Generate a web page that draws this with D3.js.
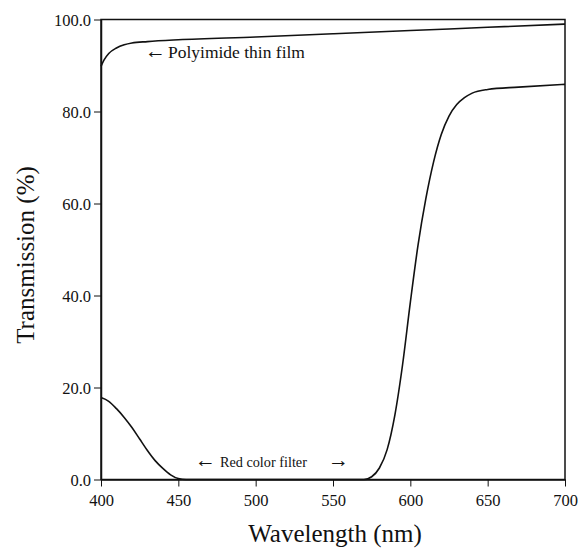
<!DOCTYPE html>
<html>
<head>
<meta charset="utf-8">
<script src="https://cdn.jsdelivr.net/npm/d3@7"></script>
<style>
  body { margin: 0; background: #fff; }
</style>
</head>
<body>
<div id="chart"></div>
<script>
// polyimide thin film
var polyWl = [400, 402, 405, 410, 415, 420, 430, 450, 500, 550, 600, 650, 700];
var polyT = [89.8, 91.2, 92.6, 93.8, 94.5, 94.9, 95.2, 95.6, 96.2, 96.9, 97.6, 98.3, 99.0];

// red color filter
var redWl = [400, 405, 410, 415, 420, 425, 430, 435, 440, 445, 450, 455, 500, 550, 570, 575, 580, 585, 590, 595, 600, 605, 610, 615, 620, 625, 630, 635, 640, 650, 670, 700];
var redT = [17.8, 17.0, 15.4, 13.5, 11.3, 8.8, 6.3, 4.1, 2.4, 1.0, 0.2, 0, 0, 0, 0, 0.6, 2.5, 6.5, 14, 25, 38.5, 51, 61, 69, 75, 79, 81.5, 83, 84, 84.8, 85.3, 85.9];

var xTicks = [400, 450, 500, 550, 600, 650, 700];
var yTicks = [0, 20, 40, 60, 80, 100];

var serif = "'Liberation Serif'";

var svgWidth = 579;
var svgHeight = 548;
var margin = { top: 19.5, right: 14, bottom: 68.5, left: 101 };
var width = svgWidth - margin.left - margin.right;
var height = svgHeight - margin.top - margin.bottom;

var svg = d3.select("#chart")
    .append("svg")
    .attr("width", svgWidth)
    .attr("height", svgHeight);

var chartGroup = svg.append("g")
    .attr("transform", `translate(${margin.left}, ${margin.top})`);

var x = d3.scaleLinear().domain([400, 700]).range([0, width]);
var y = d3.scaleLinear().domain([0, 100]).range([height, 0]);

// frame
chartGroup.append("rect")
    .attr("width", width)
    .attr("height", height)
    .attr("fill", "none")
    .attr("stroke", "#111")
    .attr("stroke-width", 1.5);

var xAxis = d3.axisBottom(x).tickValues(xTicks).tickSize(7).tickSizeOuter(0).tickFormat(d3.format("d"));
var yAxis = d3.axisLeft(y).tickValues(yTicks).tickSize(7).tickSizeOuter(0).tickFormat(d3.format(".1f"));

var gx = chartGroup.append("g")
    .attr("transform", `translate(0, ${height})`)
    .call(xAxis);
var gy = chartGroup.append("g").call(yAxis);

[gx, gy].forEach(function(g) {
    g.select(".domain").attr("stroke", "#111").attr("stroke-width", 1.5);
    g.selectAll(".tick line").attr("stroke", "#111").attr("stroke-width", 1);
    g.selectAll(".tick text")
        .style("font-family", serif)
        .style("font-size", "16.5px")
        .attr("fill", "#111");
});
gx.selectAll(".tick text").attr("y", 14.5).attr("dy", "0.71em");
gy.selectAll(".tick text").attr("x", -10).attr("dy", "0.34em");

var line = d3.line()
    .x(d => x(d[0]))
    .y(d => y(d[1]))
    .curve(d3.curveMonotoneX);

chartGroup.append("path")
    .datum(d3.zip(polyWl, polyT))
    .attr("d", line)
    .attr("fill", "none")
    .attr("stroke", "#111")
    .attr("stroke-width", 1.6);

chartGroup.append("path")
    .datum(d3.zip(redWl, redT))
    .attr("d", line)
    .attr("fill", "none")
    .attr("stroke", "#111")
    .attr("stroke-width", 1.6);

// annotations
function note(wl, val, str, size, len) {
    var t = chartGroup.append("text")
        .attr("x", x(wl))
        .attr("y", y(val))
        .style("font-family", serif)
        .style("font-size", size + "px")
        .attr("fill", "#111")
        .text(str);
    if (len) t.attr("textLength", len).attr("lengthAdjust", "spacingAndGlyphs");
    return t;
}

note(428.4, 91.6, "\u2190", 21);
note(443.3, 91.6, "Polyimide thin film", 16.5, 137);

note(460.8, 2.7, "\u2190", 21);
note(476.9, 2.7, "Red color filter", 15.5, 87);
note(546.8, 2.7, "\u2192", 21);

// axis titles
svg.append("text")
    .attr("transform", `translate(335, 542)`)
    .attr("text-anchor", "middle")
    .style("font-family", serif)
    .style("font-size", "25px")
    .attr("fill", "#111")
    .text("Wavelength (nm)");

svg.append("text")
    .attr("transform", "translate(34, 255) rotate(-90)")
    .attr("text-anchor", "middle")
    .style("font-family", serif)
    .style("font-size", "25px")
    .attr("fill", "#111")
    .text("Transmission (%)");
</script>
</body>
</html>
